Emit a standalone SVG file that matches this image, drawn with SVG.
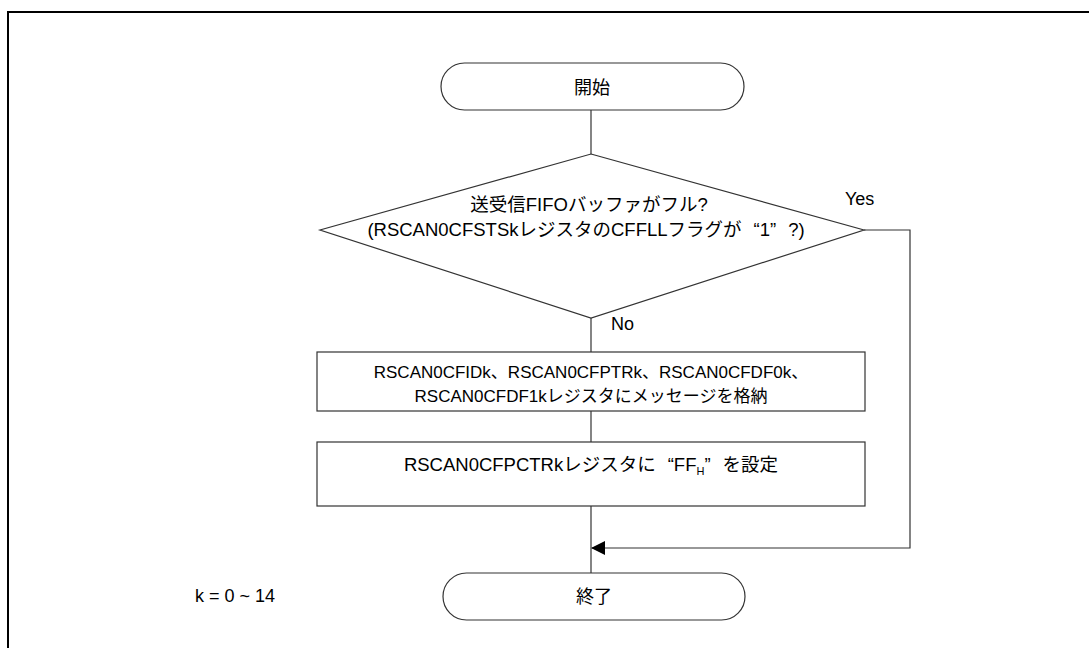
<svg xmlns="http://www.w3.org/2000/svg" width="1089" height="648" viewBox="0 0 1089 648">
<defs>
<style>
.s{fill:#fff;stroke:#333;stroke-width:1.2}
.c{fill:none;stroke:#333;stroke-width:1.2}
.t{font-family:"Liberation Sans","Noto Sans CJK JP",sans-serif;font-size:18px;fill:#000}
.d{font-size:18.5px}
.b{font-size:17px}
.m{text-anchor:middle}
</style>
<marker id="ah" markerWidth="14" markerHeight="14" refX="13" refY="7" orient="auto" markerUnits="userSpaceOnUse">
<path d="M0,0 L14,7 L0,14 Z" fill="#000"/>
</marker>
</defs>
<rect width="1089" height="648" fill="#fff"/>
<path d="M8,648 V12 H1089" fill="none" stroke="#000" stroke-width="2"/>
<g id="connectors">
<line class="c" x1="591" y1="110" x2="591" y2="154"/>
<line class="c" x1="591" y1="318" x2="591" y2="352"/>
<line class="c" x1="591" y1="411" x2="591" y2="442"/>
<line class="c" x1="591" y1="506" x2="591" y2="573"/>
<path class="c" d="M864,230 H910 V548 H592" marker-end="url(#ah)"/>
<text class="t" x="845" y="205">Yes</text>
<text class="t" x="611" y="330">No</text>
</g>
<g id="start">
<rect class="s" x="441" y="63" width="303" height="47" rx="23.5"/>
<text class="t m" x="592" y="94">開始</text>
</g>
<g id="decision">
<polygon class="s" points="591,154 864,230 591,318 320,230"/>
<text class="t d m" x="589" y="211">送受信FIFOバッファがフル?</text>
<text class="t d m" x="586" y="236">(RSCAN0CFSTSkレジスタのCFFLLフラグが<tspan dx="12">“1”</tspan><tspan dx="12">?)</tspan></text>
</g>
<g id="store">
<rect class="s" x="317" y="352" width="548" height="59"/>
<text class="t b m" x="591" y="378">RSCAN0CFIDk、RSCAN0CFPTRk、RSCAN0CFDF0k、</text>
<text class="t b m" x="591" y="402">RSCAN0CFDF1kレジスタにメッセージを格納</text>
</g>
<g id="set">
<rect class="s" x="317" y="442" width="548" height="64"/>
<text class="t d m" x="591" y="471">RSCAN0CFPCTRkレジスタに<tspan dx="12">“FF</tspan><tspan font-size="11" dy="4">H</tspan><tspan dy="-4">”</tspan><tspan dx="12">を設定</tspan></text>
</g>
<g id="end">
<rect class="s" x="443" y="573" width="302" height="47" rx="23.5"/>
<text class="t m" x="594" y="603">終了</text>
</g>
<text class="t" x="195" y="602">k = 0 ~ 14</text>
</svg>
